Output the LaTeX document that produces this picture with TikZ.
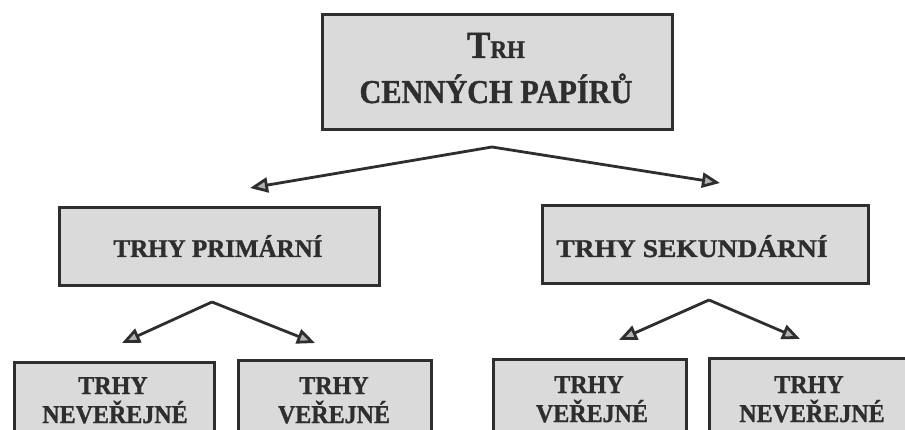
\documentclass[tikz,border=0pt]{standalone}
\usepackage{fontspec}
\setmainfont{Liberation Serif}[BoldFeatures={FakeBold=1.2}]
\usetikzlibrary{arrows.meta}
\definecolor{ink}{HTML}{2E2E2E}
\definecolor{boxfill}{HTML}{DADADA}
\begin{document}
\begin{tikzpicture}[x=1pt,y=-1pt,
  box/.style={draw=ink, fill=boxfill, line width=3pt, inner sep=0pt, anchor=north west},
  txt/.style={anchor=base, text=ink, inner sep=0pt, font=\bfseries\fontsize{24}{29}\selectfont},
  midtxt/.style={txt, font=\bfseries\fontsize{25}{30}\selectfont},
  conn/.style={draw=ink, line width=2.8pt, -{Triangle[length=18pt,width=15pt,fill=gray!60]}}
]
\useasboundingbox (0,0) rectangle (905,430);
\clip (0,0) rectangle (905,430);
\fill[white] (0,0) rectangle (905,430);

% boxes
\node[box, minimum width=350, minimum height=115] (top) at (321,13) {};
\node[box, minimum width=320, minimum height=78] (prim) at (58,206) {};
\node[box, minimum width=326, minimum height=78] (sek) at (541,204) {};
\node[box, minimum width=200, minimum height=100] (b1) at (13,361) {};
\node[box, minimum width=193, minimum height=100] (b2) at (237,359) {};
\node[box, minimum width=193, minimum height=100] (b3) at (492,358) {};
\node[box, minimum width=210, minimum height=100] (b4) at (708,357) {};

% texts
\node[txt] (topa) at (496,58) {\scalebox{1}[1.1]{{\fontsize{35}{35}\selectfont T}{\fontsize{23}{23}\selectfont RH}}};
\node[txt] (topb) at (496,103) {\scalebox{1}[1.1]{\fontsize{30.3}{36}\selectfont CENNÝCH PAPÍRŮ}};
\node[midtxt] (primt) at (218,257) {\scalebox{1}[1.02]{TRHY PRIMÁRNÍ}};
\node[midtxt] (sekt) at (692,257) {\scalebox{1.1}[1.02]{TRHY SEKUNDÁRNÍ}};
\node[txt] (b1a) at (113,394) {\scalebox{1}[1.07]{TRHY}};
\node[txt] (b1b) at (115,423) {\scalebox{1}[1.07]{NEVEŘEJNÉ}};
\node[txt] (b2a) at (334,394) {\scalebox{1}[1.07]{TRHY}};
\node[txt] (b2b) at (334,423) {\scalebox{1}[1.07]{VEŘEJNÉ}};
\node[txt] (b3a) at (589,393) {\scalebox{1}[1.07]{TRHY}};
\node[txt] (b3b) at (592,422) {\scalebox{1}[1.07]{VEŘEJNÉ}};
\node[txt] (b4a) at (809,393) {\scalebox{1}[1.07]{TRHY}};
\node[txt] (b4b) at (812,422) {\scalebox{1}[1.07]{NEVEŘEJNÉ}};

% connectors
\coordinate (a0) at (492,147);
\coordinate (t0l) at (250,188);
\coordinate (t0r) at (720,183);
\coordinate (a1) at (212,302);
\coordinate (t1l) at (122,343);
\coordinate (t1r) at (315,343);
\coordinate (a2) at (709,300);
\coordinate (t2l) at (619,340);
\coordinate (t2r) at (800,339);
\draw[conn] (a0) -- (t0l);
\draw[conn] (a0) -- (t0r);
\draw[conn] (a1) -- (t1l);
\draw[conn] (a1) -- (t1r);
\draw[conn] (a2) -- (t2l);
\draw[conn] (a2) -- (t2r);
\end{tikzpicture}
\end{document}
